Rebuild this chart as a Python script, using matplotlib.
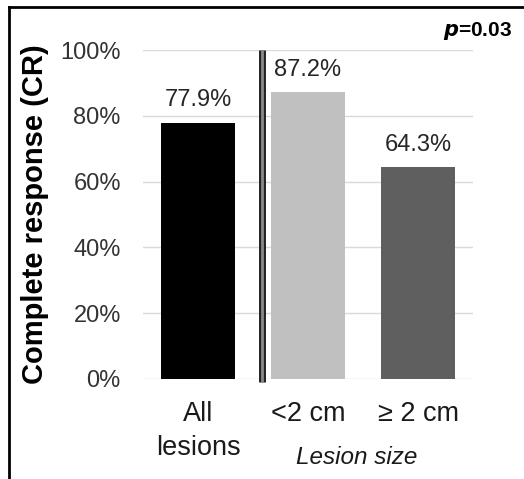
import numpy as np
import matplotlib.pyplot as plt
from matplotlib.lines import Line2D

categories = ['All\nlesions', '<2 cm', '\u2265 2 cm']
cr_values = [77.9, 87.2, 64.3]
value_labels = ['77.9%', '87.2%', '64.3%']
y_ticks = [0, 20, 40, 60, 80, 100]
bar_colors = ['#000000', '#c0c0c0', '#5f5f5f']

plt.rcParams['font.family'] = ['Liberation Sans', 'DejaVu Sans']

fig = plt.figure(figsize=(5.24, 4.79), dpi=100)
ax = fig.add_axes([0.2729, 0.2088, 0.6298, 0.6868])

x = np.arange(len(categories))
ax.bar(x, cr_values, width=0.68, color=bar_colors, zorder=3)

for xi, v, lab in zip(x, cr_values, value_labels):
    ax.text(xi, v + 3.5, lab, ha='center', va='bottom', fontsize=17, color='#262626')

ax.set_xlim(-0.5, 2.5)
ax.set_ylim(0, 100)
ax.set_yticks(y_ticks)
ax.set_yticklabels([f'{t}%' for t in y_ticks], fontsize=17, color='#333333')
ax.set_xticks(x)
ax.set_xticklabels(categories, fontsize=19.5, color='#1a1a1a', linespacing=1.38)
ax.tick_params(length=0)
ax.tick_params(axis='y', pad=16)
ax.tick_params(axis='x', pad=16)
ax.grid(axis='y', color='#d9d9d9', linewidth=1, zorder=0)
for s in ax.spines.values():
    s.set_visible(False)

ax.set_ylabel('Complete response (CR)', fontsize=21, fontweight='bold')
ax.yaxis.set_label_coords(-0.285, 0.5)

# separator between overall and subgroup bars
ax.plot([0.582, 0.582], [-0.8, 100], color='#222222', linewidth=5, solid_capstyle='butt',
        clip_on=False, zorder=4)
ax.plot([0.582, 0.582], [-0.8, 100], color='#8a8a8a', linewidth=2, solid_capstyle='butt',
        clip_on=False, zorder=5)

fig.text(357 / 524, 1 - 458 / 479, 'Lesion size', fontsize=17.5, style='italic',
         ha='center', va='center', color='#1a1a1a')
fig.text(512 / 524, 1 - 31 / 479, r'$\boldsymbol{p}$=0.03', fontsize=15, fontweight='bold',
         ha='right', va='center')

# outer frame (top and left edges visible)
fig.add_artist(Line2D([9 / 524, 9 / 524], [0, 1 - 7 / 479], color='black', linewidth=2,
                      transform=fig.transFigure))
fig.add_artist(Line2D([9 / 524, 1], [1 - 7 / 479, 1 - 7 / 479], color='black', linewidth=2,
                      transform=fig.transFigure))

fig.savefig('out.png', dpi=100)
